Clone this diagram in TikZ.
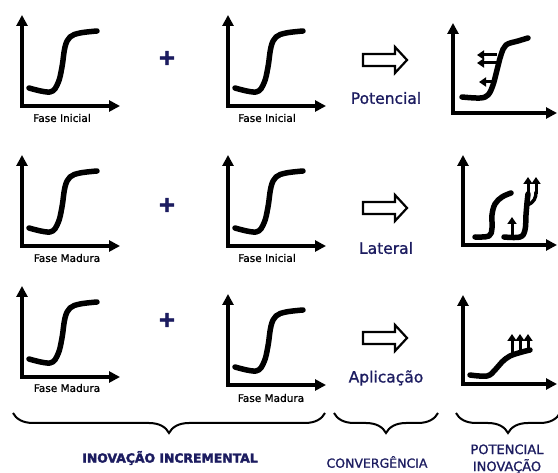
\documentclass[tikz,border=0pt]{standalone}
\usepackage{fontspec}
\setmainfont{DejaVu Sans}
\newfontfamily\heavyface{DejaVu Sans}[FakeBold=1.2]
\newfontfamily\plusface{DejaVu Sans Bold}[FakeBold=2.5]
\usetikzlibrary{arrows.meta,decorations.pathreplacing}
\definecolor{navy}{RGB}{28,28,96}
\begin{document}
\begin{tikzpicture}[x=1pt,y=-1pt,
  axis/.style={line width=3.6pt,line join=miter,
    {Triangle[length=11pt,width=11pt]}-{Triangle[length=11pt,width=11pt]}},
  growth/.style={line width=5.5pt,line cap=round,line join=round},
  tinyarrow/.style={line width=3pt,-{Triangle[length=7pt,width=9pt]}},
  phase/.style={font=\heavyface\fontsize{10.5}{12}\selectfont},
  mode/.style={text=navy,font=\heavyface\fontsize{15.5}{18}\selectfont},
  plus/.style={text=navy,font=\plusface\fontsize{22}{22}\selectfont},
  hollow/.style={line width=2.2pt,line join=miter},
  bracket/.style={line width=2pt,decorate,decoration={brace,mirror,amplitude=20pt}},
  group/.style={text=navy,font=\heavyface\fontsize{12.5}{17}\selectfont,align=center},
  scurve/.pic={
    \draw[axis] (0,-91) -- (0,0) -- (98,0);
    \draw[growth] plot[smooth,tension=0.6] coordinates
      {(7,-18) (28,-14) (36,-23) (40,-39) (43,-59) (48,-69) (58,-73) (75,-75)};
  },
  blockarrow/.pic={
    \draw[hollow] (0,-6) -- (32,-6) -- (32,-13) -- (44,0) -- (32,13) -- (32,6) -- (0,6) -- cycle;
  }
]
\clip (0,0) rectangle (558,473);

% ---- incremental innovation: two S-curves per row ----
\pic at (22,106) {scurve};
\pic at (228,106) {scurve};
\node[phase] (p11) at (62,118) {Fase Inicial};
\node[phase] (p12) at (267,118) {Fase Inicial};
\node[plus] (plus1) at (167,58) {+};

\pic at (22,246) {scurve};
\pic at (228,246) {scurve};
\node[phase] (p21) at (67,258) {Fase Madura};
\node[phase] (p22) at (267,258) {Fase Inicial};
\node[plus] (plus2) at (167,205) {+};

\pic at (22,377) {scurve};
\pic at (228,385) {scurve};
\node[phase] (p31) at (67,388) {Fase Madura};
\node[phase] (p32) at (271,398) {Fase Madura};
\node[plus] (plus3) at (167,320) {+};

% ---- convergence ----
\pic at (363,60) {blockarrow};
\pic at (363,208) {blockarrow};
\pic at (363,338) {blockarrow};
\node[mode] (m1) at (386,98) {Potencial};
\node[mode] (m2) at (386,248) {Lateral};
\node[mode] (m3) at (386,378) {Aplicação};

% ---- resulting innovation potential ----
% row 1
\draw[axis] (453,23) -- (453,113) -- (557,113);
\draw[growth] plot[smooth,tension=0.6] coordinates
  {(462,97) (480,98) (488,95) (493,85) (497,70) (501,55) (506,45) (518,41) (528,38)};
\draw[tinyarrow] (497,55) -- (477,55);
\draw[tinyarrow] (497,63) -- (477,63);
\draw[tinyarrow] (494,82) -- (479,82);
% row 2
\draw[axis] (463,155) -- (463,245) -- (557,245);
\draw[growth] plot[smooth,tension=0.6] coordinates
  {(475,237) (489,236) (492,228) (492,215) (495,204) (502,197) (511,193)};
\draw[growth] plot[smooth,tension=0.6] coordinates
  {(504,237) (520,237) (525,230) (526,215) (527,203) (528,194)};
\draw[tinyarrow] (528,196) -- (528,177);
\draw[line width=3.4pt,line cap=round] (528,205) .. controls (534,202) and (536,198) .. (536,192);
\draw[tinyarrow] (536,194) -- (536,177);
\draw[tinyarrow] (512,236) -- (512,217);
% row 3
\draw[axis] (463,295) -- (463,384) -- (557,384);
\draw[growth] plot[smooth,tension=0.6] coordinates
  {(470,375) (487,376) (495,370) (502,362) (510,356) (522,352) (530,350)};
\draw[tinyarrow] (512,355) -- (512,334);
\draw[tinyarrow] (520,353) -- (520,334);
\draw[tinyarrow] (528,351) -- (528,334);

% ---- group braces and captions ----
\draw[bracket] (13,413) -- (325,413);
\draw[bracket] (334,413) -- (438,413);
\draw[bracket] (456,413) -- (560,413);
\node[group,font=\plusface\fontsize{12.4}{15}\selectfont] (incr) at (170,458) {INOVAÇÃO INCREMENTAL};
\node[group] (conv) at (377,462) {CONVERGÊNCIA};
\node[group,font=\heavyface\fontsize{13}{17}\selectfont] (pot) at (507,459) {POTENCIAL\\INOVAÇÃO};
\end{tikzpicture}
\end{document}
